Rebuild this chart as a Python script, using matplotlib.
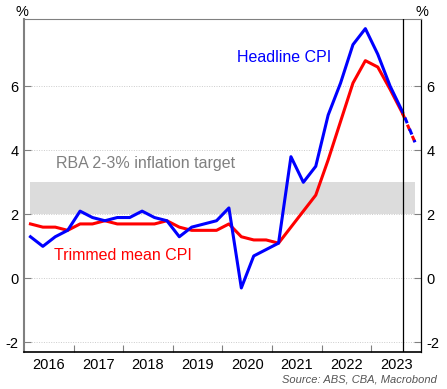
import numpy as np
import matplotlib.pyplot as plt
from matplotlib.ticker import FixedLocator, NullFormatter

plt.rcParams['font.family'] = ['Liberation Sans', 'DejaVu Sans']

# quarterly, Mar-2016 to Sep-2023 (actual), Dec-2023 forecast
headline = [1.3, 1.0, 1.3, 1.5, 2.1, 1.9, 1.8, 1.9, 1.9, 2.1, 1.9, 1.8,
            1.3, 1.6, 1.7, 1.8, 2.2, -0.3, 0.7, 0.9, 1.1, 3.8, 3.0, 3.5,
            5.1, 6.1, 7.3, 7.8, 7.0, 6.0, 5.2]
trimmed = [1.7, 1.6, 1.6, 1.5, 1.7, 1.7, 1.8, 1.7, 1.7, 1.7, 1.7, 1.8,
           1.6, 1.5, 1.5, 1.5, 1.7, 1.3, 1.2, 1.2, 1.1, 1.6, 2.1, 2.6,
           3.7, 4.9, 6.1, 6.8, 6.6, 5.9, 5.15]
forecast = 4.25
years = ['2016', '2017', '2018', '2019', '2020', '2021', '2022', '2023']

x = 2016.13 + 0.25 * np.arange(len(headline))
xf = x[-1] + 0.25

fig = plt.figure(figsize=(4.47, 3.89), dpi=100)
ax = fig.add_axes([0.0537, 0.0951, 0.888, 0.856])

# target band
ax.fill_between([x[0], xf], 2, 3, color='#dcdcdc', lw=0, zorder=1)

ax.plot(x, trimmed, color='#ff0000', lw=2.2, zorder=3)
ax.plot(x, headline, color='#0000ff', lw=2.2, zorder=4)
# forecast: red and blue dashes alternating
ax.plot([x[-1], xf], [trimmed[-1], forecast], color='#ff0000', lw=2.2,
        ls=(0, (2, 2)), dash_capstyle='butt', zorder=3)
ax.plot([x[-1], xf], [headline[-1], forecast], color='#0000ff', lw=2.2,
        ls=(2, (2, 2)), dash_capstyle='butt', zorder=4)

ax.axvline(x[-1], color='black', lw=0.9, zorder=5)

ax.set_xlim(2016, 2024)
ax.set_ylim(-2.3, 8.1)

yt = [-2, 0, 2, 4, 6]
ax.set_yticks(yt)
ax.set_yticklabels([str(v) for v in yt])
for v in yt:
    ax.axhline(v, color='#cccccc', lw=0.7, ls=(0, (1, 1.5)), zorder=0)

ax.xaxis.set_major_locator(FixedLocator(np.arange(2017, 2024)))
ax.xaxis.set_major_formatter(NullFormatter())
ax.xaxis.set_minor_locator(FixedLocator(np.arange(2016.5, 2024, 1)))
ax.set_xticklabels(years, minor=True)
ax.tick_params(axis='x', which='major', direction='in', length=5, width=0.8,
               color='#808080')
ax.tick_params(axis='x', which='minor', length=0, labelsize=10.5, pad=4)
ax.tick_params(axis='y', direction='in', length=5, width=0.8, color='#808080',
               labelsize=10.5, labelleft=True, labelright=True, right=True,
               pad=4)

ax.spines['left'].set_color('#808080')
ax.spines['left'].set_linewidth(1.5)
ax.spines['top'].set_color('#808080')
ax.spines['top'].set_linewidth(0.8)
ax.spines['right'].set_color('black')
ax.spines['right'].set_linewidth(0.9)
ax.spines['bottom'].set_color('black')
ax.spines['bottom'].set_linewidth(1.2)

ax.text(2020.3, 6.9, 'Headline CPI', color='#0000ff', fontsize=11.5,
        ha='left', va='center')
ax.text(2016.65, 3.6, 'RBA 2-3% inflation target', color='#808080',
        fontsize=11.5, ha='left', va='center')
ax.text(2016.6, 0.7, 'Trimmed mean CPI', color='#ff0000', fontsize=11.5,
        ha='left', va='center')

fig.text(22 / 447, 1 - 12 / 389, '%', fontsize=10.5, ha='center', va='center')
fig.text(422 / 447, 1 - 12 / 389, '%', fontsize=10.5, ha='center', va='center')
fig.text(437 / 447, 1 - 379 / 389, 'Source: ABS, CBA, Macrobond',
         fontsize=8, style='italic', color='#555555', ha='right', va='center')

fig.savefig('out.png', dpi=100)
